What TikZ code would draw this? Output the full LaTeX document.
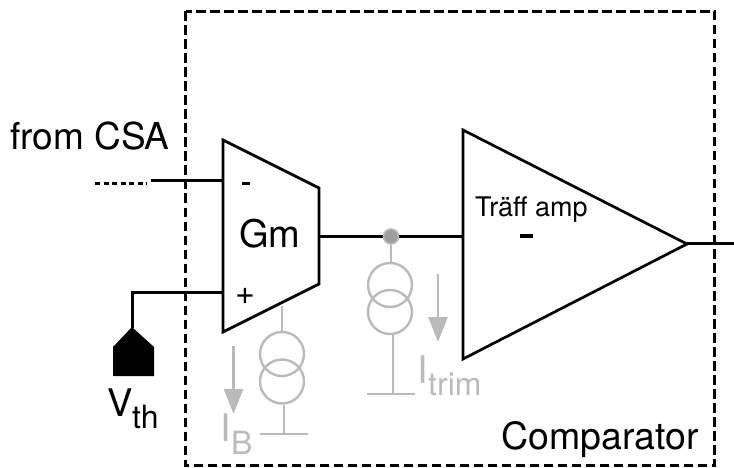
\documentclass[tikz,border=0pt]{standalone}
\usepackage{fontspec}
\setmainfont{TeX Gyre Heros}
\usetikzlibrary{arrows.meta}
\definecolor{gr}{gray}{0.73}
\tikzset{
  x=1pt,y=-1pt,
  wire/.style={line width=2.7pt,black,line join=miter},
  gwire/.style={line width=2.6pt,gr},
  frame/.style={line width=2.6pt,black,dash pattern=on 9.5pt off 4.5pt},
  txt/.style={inner sep=0pt,anchor=base west,text=black},
  gtxt/.style={inner sep=0pt,anchor=base west,text=gr},
  gcirc/.style={circle,draw=gr,line width=2.4pt,minimum size=44pt,inner sep=0pt},
  garrow/.style={line width=2.6pt,gr,-{Triangle[length=25pt,width=19pt]}}
}
\begin{document}
\begin{tikzpicture}
\useasboundingbox (0,0) rectangle (734,468);
\draw[frame] (185.5,11.5) rectangle (714.5,465.5);
% coordinates
\coordinate (inm) at (223,180.5);
\coordinate (inmb) at (151,180.5);
\coordinate (dsa) at (95,183.5);
\coordinate (dsb) at (147,183.5);
\coordinate (inp) at (223,292.5);
\coordinate (corner) at (132.5,292.5);
\coordinate (vtip) at (132.5,328);
\coordinate (gmout) at (319,236.5);
\coordinate (trin) at (463,236.5);
\coordinate (trout) at (687,243.5);
\coordinate (outend) at (734,243.5);
\coordinate (gmb) at (282,306);
\coordinate (gnd1) at (284,434);
\coordinate (gnd1l) at (260,434);
\coordinate (gnd1r) at (308,434);
\coordinate (gnd2) at (393,394);
\coordinate (gnd2l) at (367,394);
\coordinate (gnd2r) at (415,394);
% wires
\draw[wire] (inmb) -- (inm);
\draw[wire,dash pattern=on 5pt off 3.5pt] (dsa) -- (dsb);
\draw[wire] (vtip) -- (corner) -- (inp);
\draw[wire] (gmout) -- (trin);
\draw[wire] (trout) -- (outend);
% amplifiers
\draw[wire] (223,140) -- (319,188) -- (319,284) -- (223,332) -- cycle;
\draw[wire] (463,130) -- (687,244) -- (463,359) -- cycle;
% Vth
\fill[black] (132,327) -- (154,347) -- (154,376) -- (113,376) -- (113,347) -- cycle;
% gray
\node[gcirc] (c1) at (282,354) {};
\node[gcirc] (c2) at (282,381.5) {};
\node[gcirc] (c3) at (390,285) {};
\node[gcirc] (c4) at (390,312) {};
\node[circle,fill=black!38,draw=gr,line width=1.6pt,minimum size=15pt,inner sep=0pt] (dot) at (391,236.5) {};
\draw[gwire] (gmb) -- (c1.north);
\draw[gwire] (c2.south -| gnd1) -- (gnd1);
\draw[gwire] (gnd1l) -- (gnd1r);
\draw[gwire] (dot.south) -- (c3.north -| dot);
\draw[gwire] (c4.south -| gnd2) -- (gnd2);
\draw[gwire] (gnd2l) -- (gnd2r);
\coordinate (a1) at (233.5,346); \coordinate (a1e) at (233.5,414);
\coordinate (a2) at (438,274); \coordinate (a2e) at (438,342);
\draw[garrow] (a1) -- (a1e);
\draw[garrow] (a2) -- (a2e);
% text
\node[txt,font=\fontsize{37}{37}\selectfont] (l1) at (10,150) {from CSA};
\node[txt,font=\fontsize{38}{38}\selectfont] (l2) at (239,247) {Gm};
\node[txt,font=\fontsize{37.5}{38}\selectfont] (l3) at (501,449) {Comparator};
\node[txt,font=\fontsize{27}{27}\selectfont] (l4) at (475,216) {Träff amp};
\node[txt,font=\fontsize{38}{38}\selectfont] (l5) at (107,416) {V};
\node[txt,font=\fontsize{32}{32}\selectfont] (l6) at (132,428) {th};
\node[gtxt,font=\fontsize{38}{38}\selectfont] (l7) at (220,441) {I};
\node[gtxt,font=\fontsize{32}{32}\selectfont] (l8) at (231,454) {B};
\node[gtxt,font=\fontsize{38}{38}\selectfont] (l9) at (417,383) {I};
\node[gtxt,font=\fontsize{32}{32}\selectfont] (l10) at (428,395) {trim};
\node[txt,font=\fontsize{34}{34}\selectfont] (p) at (235,304) {+};
\node[inner sep=0pt,minimum width=8pt,minimum height=2.6pt,fill=black] (m) at (246,183.5) {};
\node[inner sep=0pt,minimum width=13pt,minimum height=4.5pt,fill=black] (m2) at (526,236) {};
\end{tikzpicture}
\end{document}
